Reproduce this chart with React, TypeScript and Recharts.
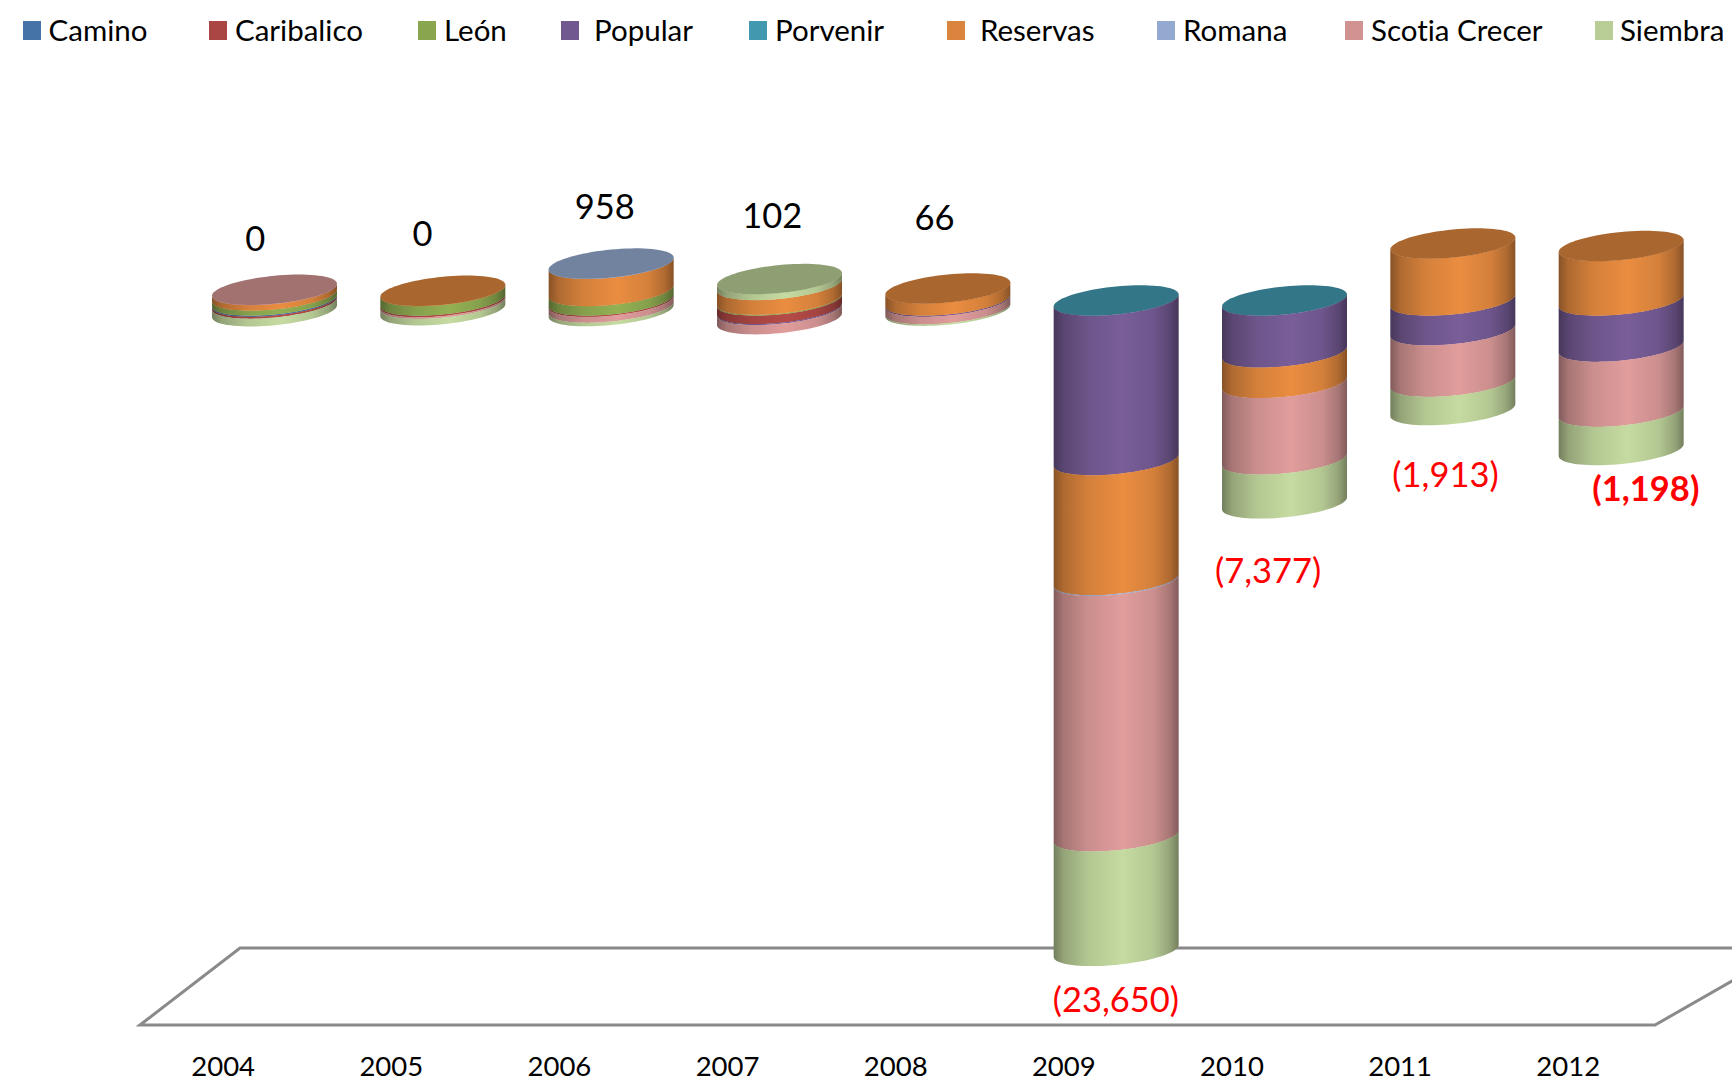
import React from "react";
import { ComposedChart, Bar, Line, XAxis, YAxis, Legend } from "recharts";

const years = ["2004", "2005", "2006", "2007", "2008", "2009", "2010", "2011", "2012"];

const camino = [-45, 0, 0, 0, 0, 0, 0, 0, 0];
const caribalico = [-70, -60, -50, -310, 0, 0, 0, 0, 0];
const leon = [182, 345, 345, 30, 0, 0, 0, 0, 0];
const porvenir = [0, 0, 0, 0, 0, -8, -8, 0, 0];
const popular = [0, 0, 0, -35, -45, -5800, -1885, -1085, -1680];
const reservas = [200, 8, 990, 535, 436, -4360, -1110, 2072, 1982];
const romana = [0, 0, 8, 0, 0, -30, 0, 0, 0];
const scotia = [8, -60, -210, -333, -275, -9290, -2780, -1870, -2364];
const siembra = [-275, -233, -125, 215, -50, -4162, -1594, -1030, -1393];

const totalLabels = ["0", "0", "958", "102", "66", "(23,650)", "(7,377)", "(1,913)", "(1,198)"];
const labelHeights = [2290, 2490, 3455, 3110, 3055, -25370, -9770, -6275, -6785];

// Stacking order: for negatives the first one sits nearest to zero.
const stackSeries = [
  { key: "Camino", values: camino, color: [69, 114, 167] },
  { key: "Caribalico", values: caribalico, color: [170, 70, 67] },
  { key: "León", values: leon, color: [137, 165, 78] },
  { key: "Porvenir", values: porvenir, color: [65, 152, 175] },
  { key: "Popular", values: popular, color: [113, 88, 143] },
  { key: "Reservas", values: reservas, color: [219, 132, 61] },
  { key: "Romana", values: romana, color: [147, 169, 207] },
  { key: "Scotia Crecer", values: scotia, color: [209, 147, 146] },
  { key: "Siembra", values: siembra, color: [185, 205, 150] },
];

const legendOrder = ["Camino", "Caribalico", "León", "Popular", "Porvenir", "Reservas", "Romana", "Scotia Crecer", "Siembra"];
const legendSwatchX = [23, 209, 417.5, 561, 749, 947, 1157, 1345, 1595];
const legendTextX = [48.6, 235, 444, 594, 775, 980, 1183, 1371, 1620];
const labelShiftX = [-19, -20, -6, -7, -13, 0, -16, -7, 25];

const rows = years.map((year, i) => {
  const row: Record<string, any> = { year, label: totalLabels[i], labelHeight: labelHeights[i] };
  stackSeries.forEach((s) => {
    row[s.key] = s.values[i];
  });
  return row;
});

// The series whose top face is visible in each year.
const capSeries = years.map((_, i) => {
  for (let k = stackSeries.length - 1; k >= 0; k--) {
    if (stackSeries[k].values[i] > 0) return stackSeries[k].key;
  }
  const first = stackSeries.find((s) => s.values[i] < 0);
  return first ? first.key : "";
});

const FONT = "Lato, Carlito, sans-serif";
const TILT = 6;
const DEPTH = 14;
const ARC_STEPS = 40;

const scale = (c: number[], f: number) =>
  `rgb(${c.map((v) => Math.min(255, Math.round(v * f))).join(",")})`;
const gradId = (key: string) => "grad-" + key.replace(/[^a-zA-Z]/g, "");

function ellipsePoint(cx: number, cy: number, r: number, t: number) {
  return [cx + r * Math.cos(t), cy - TILT * Math.cos(t) + DEPTH * Math.sin(t)];
}

function frontArc(cx: number, cy: number, r: number, fromLeft: boolean) {
  const pts: string[] = [];
  for (let i = 0; i <= ARC_STEPS; i++) {
    const t = (Math.PI * (fromLeft ? ARC_STEPS - i : i)) / ARC_STEPS;
    const [x, y] = ellipsePoint(cx, cy, r, t);
    pts.push(`${x.toFixed(2)} ${y.toFixed(2)}`);
  }
  return pts;
}

function capPath(cx: number, cy: number, r: number) {
  const pts: string[] = [];
  for (let i = 0; i < ARC_STEPS * 2; i++) {
    const [x, y] = ellipsePoint(cx, cy, r, (Math.PI * i) / ARC_STEPS);
    pts.push(`${x.toFixed(2)} ${y.toFixed(2)}`);
  }
  return "M" + pts.join(" L") + " Z";
}

function makeCylinder(series: (typeof stackSeries)[number]) {
  return function Cylinder(props: any) {
    const { x, y, width, height, index } = props;
    if (x == null || y == null) return <g />;
    const top = Math.min(y, y + height);
    const bottom = Math.max(y, y + height);
    const r = width / 2;
    const cx = x + r;
    const hasBody = bottom - top > 0.01;
    const topArc = frontArc(cx, top - 0.25, r, true);
    const bottomArc = frontArc(cx, bottom, r, false);
    return (
      <g>
        {hasBody && (
          <path d={"M" + topArc.join(" L") + " L" + bottomArc.join(" L") + " Z"} fill={`url(#${gradId(series.key)})`} />
        )}
        {capSeries[index] === series.key && <path d={capPath(cx, top, r)} fill={scale(series.color, 0.775)} />}
      </g>
    );
  };
}

function LegendContent() {
  return (
    <div style={{ position: "relative", height: 0, width: 1732 }}>
      {legendOrder.map((name, i) => {
        const s = stackSeries.find((v) => v.key === name)!;
        return (
          <React.Fragment key={name}>
            <div
              style={{
                position: "absolute",
                left: legendSwatchX[i],
                top: 21,
                width: 18,
                height: 19,
                background: scale(s.color, 1),
              }}
            />
            <div
              style={{
                position: "absolute",
                left: legendTextX[i],
                top: 10,
                height: 40,
                lineHeight: "40px",
                fontFamily: FONT,
                fontSize: 29.5,
                fontVariantLigatures: "none",
                color: "#000",
                whiteSpace: "nowrap",
              }}
            >
              {name}
            </div>
          </React.Fragment>
        );
      })}
    </div>
  );
}

function YearTick(props: any) {
  return (
    <text
      x={props.x - 51 - 0.2 * props.index}
      y={1065}
      textAnchor="middle"
      dominantBaseline="central"
      fontFamily={FONT}
      fontSize={27.5}
      fill="#000"
    >
      {props.payload.value}
    </text>
  );
}

function TotalLabel(props: any) {
  const { x, y, index } = props;
  const text = totalLabels[index];
  const negative = text.startsWith("(");
  return (
    <text
      x={x + labelShiftX[index]}
      y={y}
      textAnchor="middle"
      dominantBaseline="central"
      fontFamily={FONT}
      fontSize={34.5}
      fontWeight={text === "(1,198)" ? 700 : 400}
      fill={negative ? "#ff0000" : "#000"}
    >
      {text}
    </text>
  );
}

export default function App() {
  return (
    <div style={{ position: "absolute", left: 0, top: 0, width: 1732, height: 1081, overflow: "hidden", background: "#fff" }}>
      <ComposedChart
        width={1732}
        height={1081}
        data={rows}
        stackOffset="sign"
        margin={{ top: 108, right: 27, bottom: 0, left: 190 }}
        barCategoryGap={0}
      >
        <defs>
          {stackSeries.map((s) => (
            <linearGradient key={s.key} id={gradId(s.key)} x1="0" y1="0" x2="1" y2="0">
              <stop offset="0" stopColor={scale(s.color, 0.62)} />
              <stop offset="0.08" stopColor={scale(s.color, 0.8)} />
              <stop offset="0.28" stopColor={scale(s.color, 0.97)} />
              <stop offset="0.55" stopColor={scale(s.color, 1.07)} />
              <stop offset="0.8" stopColor={scale(s.color, 0.97)} />
              <stop offset="0.93" stopColor={scale(s.color, 0.8)} />
              <stop offset="1" stopColor={scale(s.color, 0.62)} />
            </linearGradient>
          ))}
        </defs>
        <polygon points="140,1025 240,948 1790,948 1655,1025" fill="#fff" stroke="#8a8a8a" strokeWidth={3} />
        <XAxis dataKey="year" height={38} axisLine={false} tickLine={false} interval={0} tick={<YearTick />} />
        <YAxis hide domain={[-27000, 7000]} allowDataOverflow />
        <Legend verticalAlign="top" content={<LegendContent />} wrapperStyle={{ left: 0, top: 0, width: 1732, height: 0 }} />
        {stackSeries.map((s) => (
          <Bar
            key={s.key}
            dataKey={s.key}
            stackId="flows"
            barSize={125}
            isAnimationActive={false}
            shape={makeCylinder(s)}
          />
        ))}
        <Line
          dataKey="labelHeight"
          stroke="none"
          dot={false}
          activeDot={false}
          legendType="none"
          isAnimationActive={false}
          label={<TotalLabel />}
        />
      </ComposedChart>
    </div>
  );
}
